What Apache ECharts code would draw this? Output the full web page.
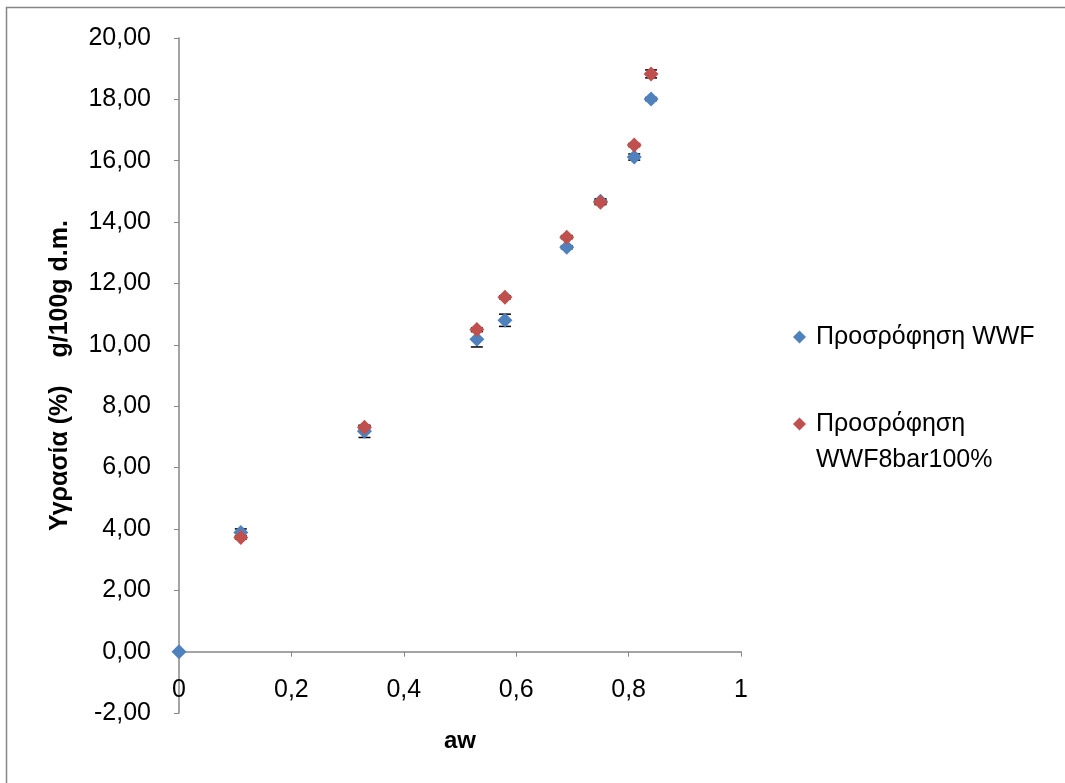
<!DOCTYPE html>
<html><head><meta charset="utf-8">
<script src="https://cdn.jsdelivr.net/npm/echarts@6/dist/echarts.min.js"></script>
<style>html,body{margin:0;padding:0;background:#fff}#c{width:1065px;height:783px}</style>
</head><body><div id="c"></div>
<script>
const aw = [0, 0.11, 0.33, 0.53, 0.58, 0.69, 0.75, 0.81, 0.84];
const wwf = [0, 3.88, 7.18, 10.18, 10.80, 13.18, 14.68, 16.12, 18.01];
const wwfErr = [0, 0.12, 0.2, 0.25, 0.2, 0.05, 0.08, 0.1, 0.05];
const aw8 = [0.11, 0.33, 0.53, 0.58, 0.69, 0.75, 0.81, 0.84];
const wwf8 = [3.72, 7.31, 10.50, 11.55, 13.51, 14.65, 16.51, 18.83];
const wwf8Err = [0.05, 0.05, 0.05, 0.05, 0.05, 0.08, 0.05, 0.13];
const seriesNames = ['Προσρόφηση WWF', 'Προσρόφηση WWF8bar100%'];
const FONT = 'Liberation Sans';

const chart = echarts.init(document.getElementById('c'));
function errData(xs, ys, es){ return xs.map((x,i)=>[x, ys[i]-es[i], ys[i]+es[i]]); }
function errRender(params, api){
  const x = api.value(0);
  const lo = api.coord([x, api.value(1)]);
  const hi = api.coord([x, api.value(2)]);
  const w = 6;
  const st = {stroke:'#000', lineWidth:1.5};
  return {type:'group', children:[
    {type:'line', shape:{x1:lo[0],y1:lo[1],x2:hi[0],y2:hi[1]}, style:st},
    {type:'line', shape:{x1:lo[0]-w,y1:lo[1],x2:lo[0]+w,y2:lo[1]}, style:st},
    {type:'line', shape:{x1:hi[0]-w,y1:hi[1],x2:hi[0]+w,y2:hi[1]}, style:st}
  ]};
}
const legendText = {fontFamily:FONT, fontSize:25, color:'#000', lineHeight:36, padding:[0,0,0,5]};
chart.setOption({
  animation:false,
  backgroundColor:'#fff',
  textStyle:{fontFamily:FONT},
  grid:{left:179, right:324, top:38, bottom:70, outerBoundsMode:'none', containLabel:false},
  xAxis:{type:'value', min:0, max:1, interval:0.2,
    name:'aw', nameLocation:'middle', nameGap:16, nameMoveOverlap:false,
    nameTextStyle:{fontFamily:FONT, fontSize:24, fontWeight:'bold', color:'#000'},
    axisLine:{onZero:true, lineStyle:{color:'#868686', width:1.5}},
    axisTick:{show:true, inside:false, length:5, lineStyle:{color:'#868686'}},
    axisLabel:{fontSize:25, color:'#000', margin:-35, formatter:v=>String(+v.toFixed(1)).replace('.',',')},
    splitLine:{show:false}},
  yAxis:{type:'value', min:-2, max:20, interval:2,
    name:'Υγρασία (%)    g/100g d.m.', nameLocation:'middle', nameGap:106, nameMoveOverlap:false,
    nameTextStyle:{fontFamily:FONT, fontSize:25, fontWeight:'bold', color:'#000'},
    axisLine:{onZero:true, lineStyle:{color:'#868686', width:1.5}},
    axisTick:{show:true, length:5, lineStyle:{color:'#868686'}},
    axisLabel:{fontSize:25, color:'#000', margin:28, formatter:v=>v.toFixed(2).replace('.',',')},
    splitLine:{show:false}},
  legend:[
    {orient:'vertical', left:793, top:319, padding:0, itemWidth:13, itemHeight:13,
     icon:'diamond', data:[seriesNames[0]], textStyle:legendText},
    {orient:'vertical', left:793, top:370, padding:0, itemWidth:13, itemHeight:13,
     icon:'diamond', data:[seriesNames[1]], textStyle:legendText,
     formatter:n=>' \nΠροσρόφηση\nWWF8bar100%'}
  ],
  graphic:[{type:'polyline', shape:{points:[[6.5,790],[6.5,7.5],[1070,7.5]]}, style:{stroke:'#868686', lineWidth:1.5, fill:null}, silent:true}],
  series:[
    {type:'custom', renderItem:errRender, data:errData(aw, wwf, wwfErr), z:1, encode:{x:0,y:[1,2]}},
    {type:'custom', renderItem:errRender, data:errData(aw8, wwf8, wwf8Err), z:1, encode:{x:0,y:[1,2]}},
    {name:seriesNames[0], type:'scatter', symbol:'diamond', symbolSize:15, z:3,
     itemStyle:{color:'#4F81BD', opacity:1}, data:aw.map((x,i)=>[x,wwf[i]])},
    {name:seriesNames[1], type:'scatter', symbol:'diamond', symbolSize:15, z:4,
     itemStyle:{color:'#C0504D', opacity:1}, data:aw8.map((x,i)=>[x,wwf8[i]])}
  ]
});
</script></body></html>
